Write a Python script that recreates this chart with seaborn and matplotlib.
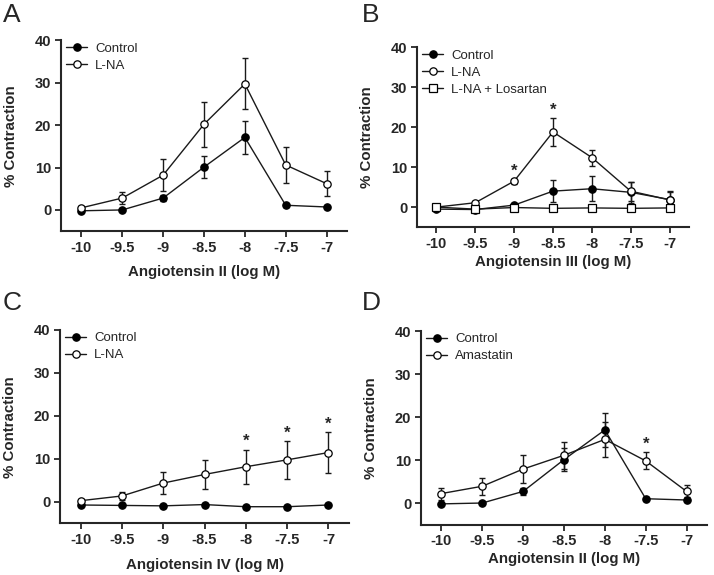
import numpy as np
import pandas as pd
import matplotlib
matplotlib.use("Agg")
import matplotlib.pyplot as plt
import seaborn as sns

# shared x axis (log M)
dose = [-10, -9.5, -9, -8.5, -8, -7.5, -7]

# Panel A - Angiotensin II
a_ctrl = [-0.2, 0.0, 2.8, 10.1, 17.1, 1.1, 0.7]
a_ctrl_err = [0.3, 0.3, 0.8, 2.6, 3.9, 0.3, 0.3]
a_lna = [0.5, 2.8, 8.2, 20.2, 29.7, 10.6, 6.2]
a_lna_err = [0.4, 1.5, 3.8, 5.3, 6.0, 4.2, 3.0]

# Panel B - Angiotensin III
b_ctrl = [-0.5, -0.6, 0.5, 4.0, 4.6, 3.7, 1.9]
b_ctrl_err = [0.3, 0.3, 0.3, 2.7, 3.1, 2.7, 2.2]
b_lna = [0.0, 1.1, 6.5, 18.8, 12.4, 4.0, 1.8]
b_lna_err = [0.3, 0.4, 0.6, 3.5, 2.0, 2.4, 2.0]
b_los = [0.0, -0.5, -0.1, -0.3, -0.2, -0.3, -0.2]
b_los_err = [0.2, 0.2, 0.2, 0.2, 0.2, 0.2, 0.2]
b_stars = [-9, -8.5]

# Panel C - Angiotensin IV
c_ctrl = [-0.7, -0.8, -0.9, -0.6, -1.1, -1.1, -0.7]
c_ctrl_err = [0.2, 0.2, 0.2, 0.2, 0.2, 0.2, 0.2]
c_lna = [0.3, 1.4, 4.4, 6.4, 8.2, 9.8, 11.5]
c_lna_err = [0.3, 1.0, 2.5, 3.3, 4.0, 4.4, 4.8]
c_stars = [-8, -7.5, -7]

# Panel D - Angiotensin II +/- amastatin
d_ctrl = [-0.2, 0.0, 2.7, 10.1, 17.0, 1.0, 0.7]
d_ctrl_err = [0.3, 0.3, 0.8, 2.6, 3.9, 0.3, 0.3]
d_ama = [2.2, 3.9, 7.9, 11.1, 14.8, 9.8, 2.7]
d_ama_err = [1.4, 2.0, 3.2, 3.2, 4.0, 2.0, 1.4]
d_stars = [-7.5]

sns.set_style("ticks")
plt.rcParams["font.family"] = ["Liberation Sans", "DejaVu Sans"]

fig = plt.figure(figsize=(7.14, 5.75), dpi=100)

LINE = "#1a1a1a"


def draw_series(ax, y, err, label, marker, face):
    ax.errorbar(dose, y, yerr=err, fmt="none", ecolor=LINE, elinewidth=1.0,
                capsize=2.3, capthick=1.0, zorder=2)
    sns.lineplot(x=dose, y=y, ax=ax, color=LINE, linewidth=1.0, marker=marker,
                 markersize=5.3, markerfacecolor=face,
                 markeredgecolor="black", markeredgewidth=0.9, label=label,
                 zorder=3)


def add_stars(ax, xs, y, err):
    for xs_ in xs:
        i = dose.index(xs_)
        ax.text(xs_, y[i] + err[i] + 0.1, "*", ha="center", va="bottom",
                fontsize=12, fontweight="bold")


def style_axes(ax, xlabel, xpad):
    ax.set_xlim(-10.25, -6.75)
    ax.set_ylim(-5, 40)
    ax.set_xticks(dose)
    ax.set_xticklabels(["-10", "-9.5", "-9", "-8.5", "-8", "-7.5", "-7"])
    ax.set_yticks([0, 10, 20, 30, 40])
    for lab in ax.get_xticklabels() + ax.get_yticklabels():
        lab.set_fontweight("bold")
        lab.set_fontsize(10.5)
    ax.tick_params(direction="out", length=4, width=1.3, pad=3)
    sns.despine(ax=ax)
    ax.spines["left"].set_linewidth(1.5)
    ax.spines["bottom"].set_linewidth(1.5)
    ax.set_xlabel(xlabel, fontsize=10.8, fontweight="bold", labelpad=xpad)
    ax.set_ylabel("% Contraction", fontsize=10.8, fontweight="bold", labelpad=12)
    ax.legend(loc="upper left", bbox_to_anchor=(-0.01, 1.03), frameon=False,
              fontsize=9.5, handlelength=1.6, handletextpad=0.6,
              labelspacing=0.35, borderaxespad=0.2)


# A
axA = fig.add_axes([0.0854, 0.598, 0.4006, 0.332])
draw_series(axA, a_ctrl, a_ctrl_err, "Control", "o", "black")
draw_series(axA, a_lna, a_lna_err, "L-NA", "o", "white")
style_axes(axA, "Angiotensin II (log M)", 7)

# B
axB = fig.add_axes([0.584, 0.605, 0.381, 0.313])
draw_series(axB, b_ctrl, b_ctrl_err, "Control", "o", "black")
draw_series(axB, b_lna, b_lna_err, "L-NA", "o", "white")
draw_series(axB, b_los, b_los_err, "L-NA + Losartan", "s", "white")
add_stars(axB, b_stars, b_lna, b_lna_err)
style_axes(axB, "Angiotensin III (log M)", 3)

# C
axC = fig.add_axes([0.084, 0.0896, 0.405, 0.3365])
draw_series(axC, c_ctrl, c_ctrl_err, "Control", "o", "black")
draw_series(axC, c_lna, c_lna_err, "L-NA", "o", "white")
add_stars(axC, c_stars, c_lna, c_lna_err)
style_axes(axC, "Angiotensin IV (log M)", 8)

# D
axD = fig.add_axes([0.5896, 0.0878, 0.4006, 0.3365])
draw_series(axD, d_ctrl, d_ctrl_err, "Control", "o", "black")
draw_series(axD, d_ama, d_ama_err, "Amastatin", "o", "white")
add_stars(axD, d_stars, d_ama, d_ama_err)
style_axes(axD, "Angiotensin II (log M)", 2.5)

# panel letters
for letter, (px, py) in zip("ABCD", [(3, 3), (362, 3), (3, 291), (362, 291)]):
    fig.text(px / 714, 1 - py / 575, letter, fontsize=19, ha="left", va="top")

fig.savefig("out.png", dpi=100)
